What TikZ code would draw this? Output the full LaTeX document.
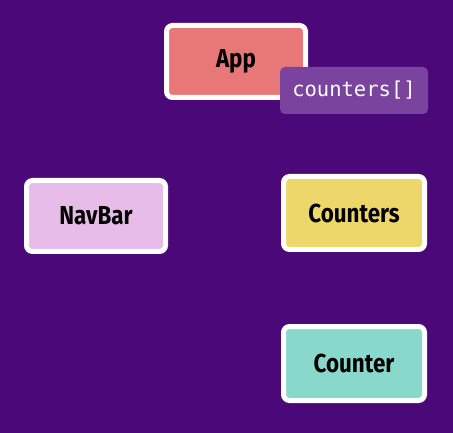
\documentclass[tikz,border=0pt]{standalone}
\usepackage{fontspec}
\setmainfont{Fira Sans}
\newfontfamily\labfont[FakeStretch=0.86]{Fira Sans}
\newfontfamily\codefont{DejaVu Sans Mono}
\definecolor{bgc}{RGB}{74,8,120}
\definecolor{appc}{RGB}{232,120,120}
\definecolor{navc}{RGB}{232,188,232}
\definecolor{ctsc}{RGB}{237,214,106}
\definecolor{ctrc}{RGB}{136,217,204}
\definecolor{tagc}{RGB}{122,68,158}
\begin{document}
\begin{tikzpicture}[x=1pt,y=1pt,
  comp/.style={draw=white,line width=5pt,rounded corners=6pt,inner sep=0pt,
    font=\labfont\fontsize{26}{30}\selectfont\bfseries,text=black},
  tag/.style={fill=tagc,rounded corners=5pt,inner sep=0pt,
    font=\codefont\fontsize{20.5}{24}\selectfont,text=white}]
\fill[bgc] (0,0) rectangle (453,-433);
\useasboundingbox (0,0) rectangle (453,-433);
\node[comp,fill=appc,minimum width=139pt,minimum height=72pt] (app) at (236,-61.5) {App};
\node[tag,minimum width=148pt,minimum height=47pt] (tag) at (354,-90.5) {counters[]};
\node[comp,fill=navc,minimum width=139pt,minimum height=71pt] (nav) at (96,-216) {NavBar};
\node[comp,fill=ctsc,minimum width=141pt,minimum height=73pt] (cts) at (354,-213) {Counters};
\node[comp,fill=ctrc,minimum width=141pt,minimum height=74pt] (ctr) at (354,-363.5) {Counter};
\end{tikzpicture}
\end{document}
